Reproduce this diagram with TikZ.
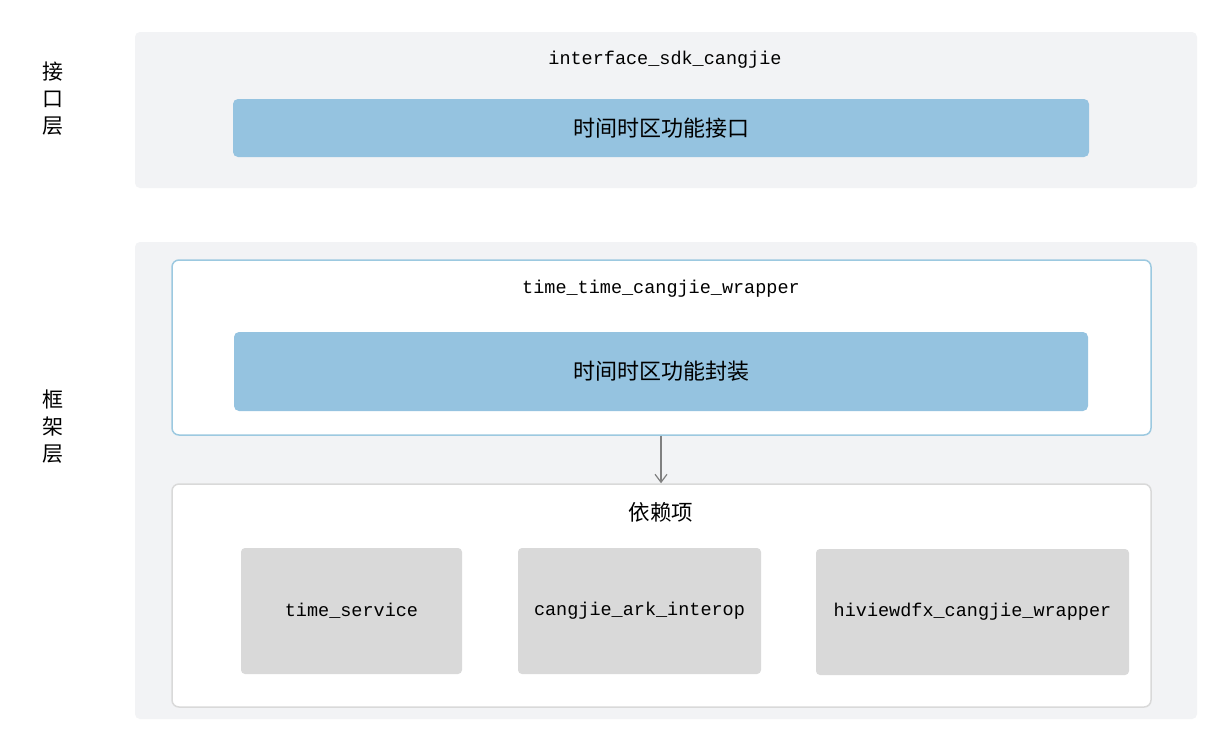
\documentclass[tikz,border=0pt]{standalone}
\usepackage{fontspec}
\setmonofont{Liberation Mono}
\newfontfamily\cjk{Noto Sans CJK SC}
\usetikzlibrary{arrows.meta}
\definecolor{panelgray}{HTML}{F2F3F5}
\definecolor{boxblue}{HTML}{95C3E0}
\definecolor{bordblue}{HTML}{9CC9E0}
\definecolor{boxgray}{HTML}{D9D9D9}
\definecolor{bordgray}{HTML}{D9D9D9}
\definecolor{arrowgray}{HTML}{808080}
\begin{document}
\begin{tikzpicture}[x=1pt,y=-1pt,
  panel/.style={fill=panelgray, draw=none, rounded corners=5pt, inner sep=0pt, anchor=center},
  bluebox/.style={fill=boxblue, draw=none, rounded corners=5pt, inner sep=0pt, anchor=center, font=\cjk\fontsize{22}{24}\selectfont},
  wrapbox/.style={fill=white, draw=bordblue, line width=1.5pt, rounded corners=7pt, inner sep=0pt, anchor=center},
  depbox/.style={fill=white, draw=bordgray, line width=1.5pt, rounded corners=7pt, inner sep=0pt, anchor=center},
  graybox/.style={fill=boxgray, draw=none, rounded corners=4pt, inner sep=0pt, anchor=center, font=\ttfamily\fontsize{18.5}{22}\selectfont},
  title/.style={font=\ttfamily\fontsize{18.5}{22}\selectfont, inner sep=0pt, anchor=center},
  cjktitle/.style={font=\cjk\fontsize{21.5}{24}\selectfont, inner sep=0pt, anchor=center},
  layerlabel/.style={font=\cjk\fontsize{21}{27}\selectfont, align=center, inner sep=0pt, anchor=center},
  conn/.style={draw=arrowgray, line width=1.2pt, -{Straight Barb[length=8pt,width=12pt]}}
]
\useasboundingbox (0,0) rectangle (1222,734);
\fill[white] (0,0) rectangle (1222,734);

% top panel
\node[panel, minimum width=1062pt, minimum height=156pt] (toppanel) at (666,110) {};
\node[title] (toptitle) at (665,60) {interface\_sdk\_cangjie};
\node[bluebox, minimum width=856pt, minimum height=58pt] (iface) at (661,128) {时间时区功能接口};
\node[layerlabel] (lbl1) at (53,99) {接\\口\\层};

% bottom panel
\node[panel, minimum width=1062pt, minimum height=477pt] (botpanel) at (666,480.5) {};
\node[layerlabel] (lbl2) at (53,427) {框\\架\\层};

\node[wrapbox, minimum width=979pt, minimum height=175pt] (wrap) at (661.5,347.5) {};
\node[title] (wraptitle) at (661,289) {time\_time\_cangjie\_wrapper};
\node[bluebox, minimum width=854pt, minimum height=79pt] (wrapin) at (661,371.5) {时间时区功能封装};

\node[depbox, minimum width=979pt, minimum height=223pt] (dep) at (661.5,595.5) {};
\node[cjktitle] (deptitle) at (661,512) {依赖项};

\node[graybox, minimum width=221pt, minimum height=126pt] (ts) at (351.5,611) {time\_service};
\node[graybox, minimum width=243pt, minimum height=126pt] (cai) at (639.5,611) {cangjie\_ark\_interop};
\node[graybox, minimum width=313pt, minimum height=126pt] (hv) at (972.5,612) {hiviewdfx\_cangjie\_wrapper};

\draw[conn] (wrap.south -| 661,0) -- (dep.north -| 661,0);
\end{tikzpicture}
\end{document}
